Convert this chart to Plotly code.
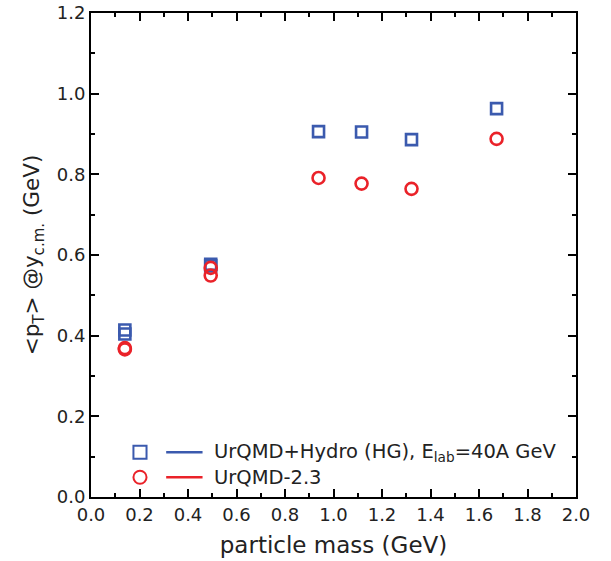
import plotly.graph_objects as go

# particle masses (GeV): pi+, pi-, K+, K-, p, Lambda, Xi, Omega
mass = [0.1396, 0.1396, 0.4937, 0.4937, 0.9383, 1.1157, 1.3217, 1.6725]
# mean transverse momentum at mid-rapidity (GeV)
pt_hydro = [0.414, 0.404, 0.577, 0.573, 0.906, 0.905, 0.886, 0.963]
pt_urqmd = [0.369, 0.366, 0.568, 0.549, 0.791, 0.777, 0.764, 0.888]

x_ticks = [0.0, 0.2, 0.4, 0.6, 0.8, 1.0, 1.2, 1.4, 1.6, 1.8, 2.0]
y_ticks = [0.0, 0.2, 0.4, 0.6, 0.8, 1.0, 1.2]

BLUE = "#3b5aae"
RED = "#ea2229"
FONT = "DejaVu Sans"
TXT = "#222"

fig = go.Figure()
fig.add_trace(go.Scatter(
    x=mass, y=pt_hydro, mode="markers", showlegend=False,
    marker=dict(symbol="square-open", size=11, color=BLUE, line=dict(width=2.6, color=BLUE)),
))
fig.add_trace(go.Scatter(
    x=mass, y=pt_urqmd, mode="markers", showlegend=False,
    marker=dict(symbol="circle-open", size=12, color=RED, line=dict(width=2.6, color=RED)),
))

axis_common = dict(
    showline=True, linecolor="black", linewidth=2, mirror="allticks",
    ticks="inside", ticklen=8, tickwidth=1.5, tickcolor="black",
    showgrid=False, zeroline=False, automargin=False, ticklabeloverflow="allow",
    tickfont=dict(family=FONT, size=18, color=TXT),
)
fig.update_xaxes(
    range=[0, 2], tickvals=x_ticks, ticktext=[f"{v:.1f}" for v in x_ticks],
    minor=dict(dtick=0.1, ticks="inside", ticklen=4, tickwidth=1.5, tickcolor="black"),
    title=dict(text="particle mass (GeV)", font=dict(family=FONT, size=23, color=TXT), standoff=13),
    **axis_common,
)
fig.update_yaxes(
    range=[0, 1.2], tickvals=y_ticks, ticktext=[f"{v:.1f}" for v in y_ticks],
    minor=dict(dtick=0.1, ticks="inside", ticklen=4, tickwidth=1.5, tickcolor="black"),
    title=dict(text="&lt;p<sub>T</sub>&gt; @y<sub>c.m.</sub> (GeV)",
               font=dict(family=FONT, size=21.5, color=TXT), standoff=11),
    **axis_common,
)

# legend drawn in axis coordinates
entries = [
    ("square", BLUE, 0.111, "UrQMD+Hydro (HG), E<sub>lab</sub>=40A GeV"),
    ("circle", RED, 0.049, "UrQMD-2.3"),
]
for kind, col, yv, label in entries:
    xc, hw, hh = 0.202, 0.027, 0.0163
    shape_type = "rect" if kind == "square" else "circle"
    fig.add_shape(type=shape_type, xref="x", yref="y", x0=xc - hw, x1=xc + hw,
                  y0=yv - hh, y1=yv + hh, line=dict(color=col, width=2))
    fig.add_shape(type="line", xref="x", yref="y", x0=0.31, x1=0.46, y0=yv, y1=yv,
                  line=dict(color=col, width=2.5))
    fig.add_annotation(x=0.50, y=yv, xref="x", yref="y", text=label, showarrow=False,
                       xanchor="left", yanchor="middle",
                       font=dict(family=FONT, size=19.5, color=TXT))

fig.update_layout(
    width=611, height=561,
    margin=dict(l=91, r=35, t=13, b=64),
    plot_bgcolor="white", paper_bgcolor="white",
    showlegend=False,
)

fig.write_html("out.html")
